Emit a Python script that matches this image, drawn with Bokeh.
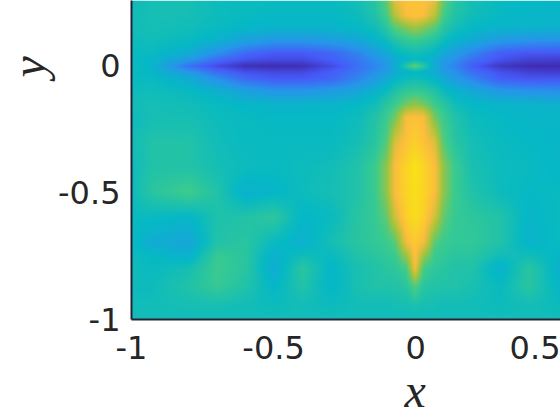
import numpy as np
from bokeh.plotting import figure
from bokeh.models import LinearColorMapper, FixedTicker, Title
from bokeh.embed import file_html
from bokeh.resources import INLINE

# Field, on uneven knots (0 = darkest blue, 1 = brightest yellow)
x_knots = [-1, -.93, -.8, -.7, -.6, -.5, -.4, -.3, -.2, -.14, -.1, -.07, -.03, 0, .03, .07, .1, .14, .2, .3, .4, .51]
y_knots = [.26, .2, .15, .1, .05, .025, 0, -.025, -.05, -.1, -.15, -.2, -.3, -.4, -.5, -.6, -.7, -.75, -.8, -.87, -.95, -1]
field = [
    [.45,.47,.47,.45,.44,.44,.44,.44,.47,.52,.62,.82,.88,.88,.88,.82,.62,.52,.47,.44,.43,.42],
    [.46,.47,.47,.45,.44,.43,.43,.43,.45,.50,.58,.74,.86,.88,.86,.74,.58,.50,.46,.43,.42,.42],
    [.46,.47,.46,.44,.42,.41,.41,.41,.43,.46,.52,.60,.66,.70,.66,.60,.52,.47,.43,.41,.41,.40],
    [.45,.46,.44,.40,.34,.30,.30,.32,.36,.41,.45,.50,.54,.55,.54,.50,.45,.41,.37,.31,.29,.28],
    [.44,.44,.38,.28,.18,.14,.14,.17,.25,.32,.37,.42,.45,.46,.45,.42,.37,.32,.25,.15,.13,.13],
    [.44,.42,.31,.19,.12,.10,.10,.15,.22,.28,.33,.38,.42,.44,.42,.38,.33,.28,.20,.12,.08,.07],
    [.45,.42,.20,.10,.03,.02,.03,.10,.20,.25,.30,.38,.52,.62,.52,.38,.30,.25,.15,.05,.02,.02],
    [.44,.42,.31,.19,.12,.10,.10,.15,.22,.28,.33,.38,.41,.42,.41,.38,.33,.28,.20,.12,.08,.07],
    [.44,.44,.38,.28,.18,.14,.14,.17,.25,.32,.37,.42,.45,.46,.45,.42,.37,.32,.25,.15,.13,.13],
    [.45,.46,.44,.40,.34,.30,.30,.32,.36,.41,.45,.50,.54,.55,.54,.50,.45,.41,.37,.31,.29,.28],
    [.46,.47,.46,.44,.42,.41,.41,.41,.43,.46,.52,.56,.64,.68,.64,.56,.52,.46,.43,.41,.41,.40],
    [.45,.47,.47,.45,.44,.43,.43,.43,.45,.50,.56,.64,.85,.87,.85,.64,.56,.50,.45,.43,.42,.42],
    [.46,.50,.50,.46,.44,.44,.44,.44,.47,.52,.60,.80,.88,.93,.88,.80,.60,.52,.47,.44,.43,.42],
    [.45,.50,.50,.47,.45,.44,.45,.46,.50,.56,.68,.86,.95,1.0,.95,.86,.68,.56,.48,.45,.44,.42],
    [.45,.52,.57,.50,.40,.42,.45,.47,.50,.56,.68,.86,.95,.99,.95,.86,.68,.56,.50,.45,.43,.44],
    [.44,.44,.42,.49,.50,.53,.42,.44,.52,.55,.62,.78,.93,.98,.93,.78,.62,.55,.53,.50,.42,.44],
    [.44,.38,.36,.50,.52,.44,.40,.47,.52,.54,.56,.60,.84,.90,.84,.60,.56,.54,.54,.50,.41,.44],
    [.45,.43,.40,.55,.52,.40,.46,.44,.50,.52,.54,.56,.70,.88,.70,.56,.54,.52,.52,.46,.46,.42],
    [.46,.44,.47,.56,.52,.38,.52,.42,.48,.50,.52,.53,.58,.85,.58,.53,.52,.50,.50,.40,.52,.40],
    [.45,.45,.50,.55,.50,.42,.50,.42,.48,.50,.50,.50,.52,.60,.52,.50,.50,.50,.48,.44,.52,.42],
    [.46,.46,.47,.47,.46,.45,.46,.45,.46,.46,.46,.47,.47,.48,.47,.47,.46,.46,.46,.45,.46,.45],
    [.46,.46,.46,.46,.46,.46,.46,.46,.46,.46,.46,.46,.46,.46,.46,.46,.46,.46,.46,.46,.46,.46],
]
x_ticks = [-1, -0.5, 0, 0.5]
y_ticks = [-1, -0.5, 0]
x_tick_labels = ["-1", "-0.5", "0", "0.5"]
y_tick_labels = ["-1", "-0.5", "0"]

parula_anchors = [
    (0.00, 62, 38, 168), (0.14, 71, 91, 249), (0.29, 39, 150, 235),
    (0.43, 6, 185, 197), (0.57, 62, 204, 140), (0.71, 165, 196, 60),
    (0.86, 252, 190, 60), (1.00, 249, 225, 25),
]
a = np.array(parula_anchors, dtype=float)
t = np.linspace(0, 1, 256)
palette = ["#%02x%02x%02x" % (int(np.interp(s, a[:, 0], a[:, 1])),
                              int(np.interp(s, a[:, 0], a[:, 2])),
                              int(np.interp(s, a[:, 0], a[:, 3]))) for s in t]

x0, x1, y0, y1 = -1.0, 0.51, -1.0, 0.256

f = np.array(field)[::-1]
yk = np.array(y_knots)[::-1]
xk = np.array(x_knots)
xs = np.linspace(x0, x1, 430)
ys = np.linspace(y0, y1, 320)
tmp = np.array([np.interp(xs, xk, row) for row in f])
img = np.array([np.interp(ys, yk, tmp[:, j]) for j in range(tmp.shape[1])]).T

W, H = 560, 420
p = figure(width=W, height=H, output_backend="svg", toolbar_location=None,
           x_range=(x0, x1), y_range=(y0, y1), tools="",
           min_border_left=131, min_border_bottom=H - 319, min_border_top=0, min_border_right=0)
p.styles = {"position": "absolute", "left": "0px", "top": "0px"}
p.outline_line_color = None
p.grid.visible = False
mapper = LinearColorMapper(palette=palette, low=0, high=1)
p.image(image=[img], x=x0, y=y0, dw=x1 - x0, dh=y1 - y0, color_mapper=mapper)

for ax, ticks, labels in ((p.xaxis[0], x_ticks, x_tick_labels), (p.yaxis[0], y_ticks, y_tick_labels)):
    ax.ticker = FixedTicker(ticks=ticks)
    ax.major_label_overrides = {k: v for k, v in zip(ticks, labels)}
    ax.major_tick_line_color = None
    ax.minor_tick_line_color = None
    ax.axis_line_color = "#262235"
    ax.axis_line_width = 2
    ax.major_label_text_font = "DejaVu Sans"
    ax.major_label_text_font_size = "32px"
    ax.major_label_text_color = "#262626"
p.xaxis.major_label_standoff = 10
p.yaxis.major_label_standoff = 5
p.yaxis.major_label_orientation = "horizontal"

title_style = dict(text_font="Liberation Serif", text_font_style="italic", text_font_size="48px",
                   text_color="#262626", text_line_height=0.9, align="left")
p.add_layout(Title(text="x", offset=273, standoff=0, **title_style), "below")
p.add_layout(Title(text="y", offset=242, standoff=0, vertical_align="middle", **title_style), "left")

open("out.html", "w").write(file_html(p, INLINE))
